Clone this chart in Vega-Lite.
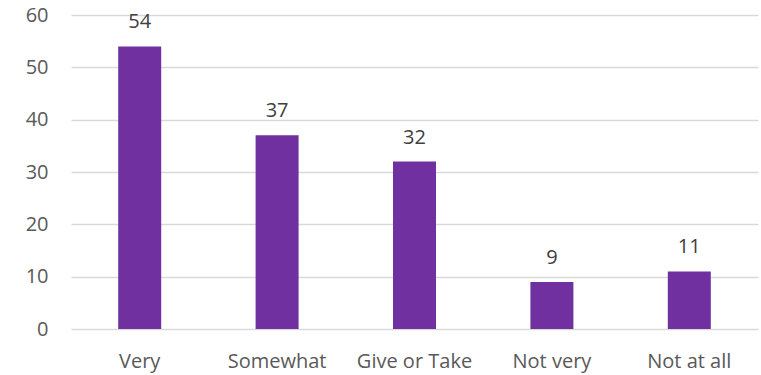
{
  "$schema": "https://vega.github.io/schema/vega-lite/v6.json",
  "width": 687,
  "height": 314,
  "autosize": {"type": "none"},
  "padding": {"left": 71, "top": 15, "right": 3, "bottom": 46},
  "background": "white",
  "config": {
    "view": {"stroke": null},
    "font": "Open Sans"
  },
  "data": {
    "values": [
      {"response": "Very", "count": 54},
      {"response": "Somewhat", "count": 37},
      {"response": "Give or Take", "count": 32},
      {"response": "Not very", "count": 9},
      {"response": "Not at all", "count": 11}
    ]
  },
  "encoding": {
    "x": {
      "field": "response",
      "type": "nominal",
      "sort": null,
      "scale": {"paddingInner": 0.687, "paddingOuter": 0.3435},
      "axis": {
        "title": null,
        "labelAngle": 0,
        "labelFontSize": 20,
        "labelColor": "#595959",
        "labelBaseline": "alphabetic",
        "labelPadding": 38,
        "domain": false,
        "ticks": false
      }
    },
    "y": {
      "field": "count",
      "type": "quantitative",
      "scale": {"domain": [0, 60]},
      "axis": {
        "title": null,
        "values": [0, 10, 20, 30, 40, 50, 60],
        "labelFontSize": 20,
        "labelColor": "#595959",
        "labelPadding": 23,
        "domain": false,
        "ticks": false,
        "gridColor": "#D9D9D9",
        "gridWidth": 1.3
      }
    }
  },
  "layer": [
    {"mark": {"type": "bar", "color": "#7030A0"}},
    {
      "mark": {"type": "text", "baseline": "alphabetic", "dy": -18, "fontSize": 20, "color": "#404040"},
      "encoding": {"text": {"field": "count", "type": "quantitative"}}
    }
  ]
}
